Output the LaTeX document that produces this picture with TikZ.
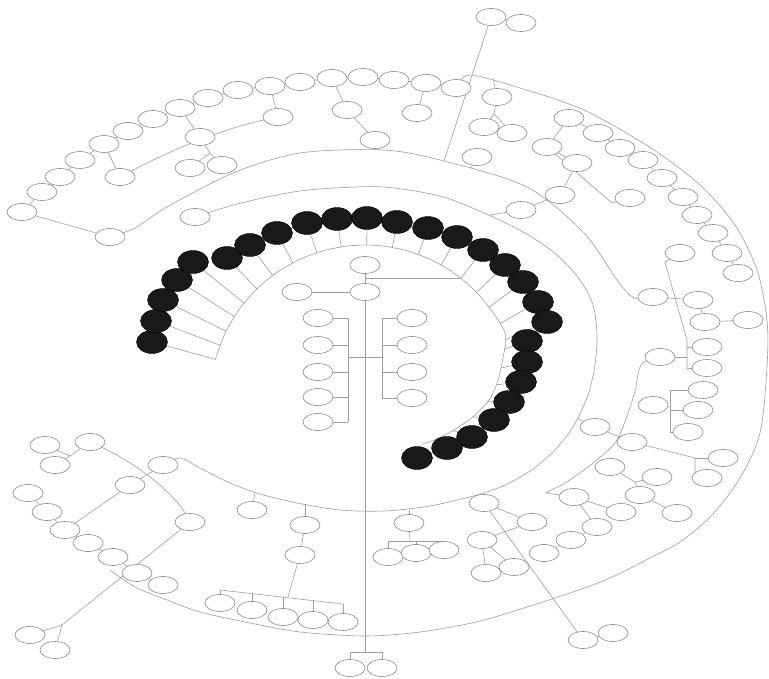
\documentclass[tikz,border=0pt]{standalone}
\usetikzlibrary{calc,shapes.geometric}
\pgfdeclarelayer{back}
\pgfdeclarelayer{bg}
\pgfsetlayers{back,bg,main}
\tikzset{
 wn/.style={ellipse,draw=black!45,fill=white,line width=0.6pt,minimum width=30pt,minimum height=17pt,inner sep=0pt},
 bn/.style={ellipse,draw=black,fill=black!90,minimum width=31pt,minimum height=23pt,inner sep=0pt},
 ln/.style={draw=black!38,line width=0.6pt},
}
\begin{document}
\begin{tikzpicture}[x=1pt,y=-1pt]
\useasboundingbox (0,0) rectangle (769,679);
\begin{pgfonlayer}{back}
\fill[white] (0,0) rectangle (769,679);
\end{pgfonlayer}
\coordinate (ctr) at (365,400);
% black nodes
\foreach \i/\x/\y in {1/152/342,2/156/321,3/163/300,4/177/280,5/193/262,6/227/258,7/250/245,8/277/233,9/307/223,10/337/219,11/367/218,12/397/222,13/428/228,14/457/237,15/483/250,16/505/265,17/523/282,18/538/302,19/547/322,20/527/341,21/527/362,22/521/382,23/509/402,24/494/420,25/472/437,26/447/448,27/417/458}
  \node[bn] (b\i) at (\x,\y) {};
% centre
\node[wn] (top) at (365,265) {};
\node[wn] (ctrn) at (365,292) {};
\node[wn] (lft) at (297,292) {};
\foreach \n/\yy in {l1/318,l2/345,l3/372,l4/397,l5/422} \node[wn] (\n) at (318,\yy) {};
\foreach \n/\yy in {r1/318,r2/345,r3/372,r4/398} \node[wn] (\n) at (412,\yy) {};
\node[wn] (bot1) at (350,668) {};
\node[wn] (bot2) at (382,668) {};
% top-left chain
\foreach \n/\x/\y in {c1/22/212,c2/42/192,c3/60/177,c4/80/160,c5/104/144,c6/128/131,c7/153/119,c8/180/108,c9/208/98,c10/238/90,c11/270/86,c12/300/82,c13/332/78,c14/363/77,c15/394/80,c16/426/83,c17/456/88,
  t1/110/237,t2/120/177,t3/200/137,t4/190/168,t5/222/165,t6/278/117,t7/347/110,t8/375/140,t9/417/113,t10/195/217}
  \node[wn] (\n) at (\x,\y) {};
% top-right
\foreach \n/\x/\y in {u1/491/17,u2/521/23,u3/497/97,u4/484/127,u5/512/133,u6/477/157,u7/569/118,u8/598/133,u9/620/148,u10/643/160,u11/662/178,u12/683/197,u13/547/147,u14/577/163,u15/630/198,u16/560/195,u17/521/210,u18/697/215,u19/713/233,u20/727/253,u21/738/273,u22/680/253,u23/653/297,u24/698/300,u25/705/322,u26/748/320,u27/707/347,u28/707/368,u29/660/357}
  \node[wn] (\n) at (\x,\y) {};
% right-lower
\foreach \n/\x/\y in {v1/703/390,v2/698/410,v3/688/432,v4/653/405,v5/595/427,v6/632/442,v7/723/458,v8/707/478,v9/610/467,v10/657/477,v11/640/495,v12/677/513,v13/574/497,v14/621/512,v15/597/527,v16/571/540,v17/544/553,v18/484/503,v19/532/522,v20/482/540,v21/514/567,v22/486/573,v23/583/640,v24/613/633}
  \node[wn] (\n) at (\x,\y) {};
% bottom centre
\foreach \n/\x/\y in {w1/409/523,w2/388/557,w3/416/553,w4/444/550,w5/305/525,w6/300/555,w7/220/603,w8/252/610,w9/283/617,w10/313/620,w11/343/622,w12/252/510}
  \node[wn] (\n) at (\x,\y) {};
% left-bottom
\foreach \n/\x/\y in {x1/45/445,x2/90/442,x3/55/465,x4/28/493,x5/47/512,x6/65/530,x7/88/543,x8/113/557,x9/137/573,x10/163/585,x11/130/485,x12/163/465,x13/190/522,x14/30/635,x15/55/650}
  \node[wn] (\n) at (\x,\y) {};

\begin{pgfonlayer}{bg}
% spokes
\foreach \i/\R in {1/155,2/155,3/155,4/155,5/155,6/155,7/155,8/155,9/155,10/155,11/155,12/155,13/155,14/155,15/155,16/155,17/155,18/155,19/152,20/148,21/140,22/133,23/122,24/109,25/93,26/80}
  \draw[ln] (b\i) -- ($(ctr)!\R pt!(b\i)$);
% ring A
\draw[ln] plot[smooth] coordinates {(215.3,359.9) (224.5,334.5) (238,311.1) (255.4,290.4) (276.1,273) (299.5,259.5) (324.9,250.3) (351.5,245.6) (378.5,245.6) (405.1,250.3) (430.5,259.5) (453.9,273) (474.6,290.4) (492,311.1) (505.5,334.5) (502.5,360.6) (497.7,381.3) (489,400) (472.7,417) (451.5,431.5) (434.3,440) (421.7,444.3)};
% ring B
\draw[ln] plot[smooth] coordinates {(t10.center) (230,206) (267,197) (300,191) (335,188) (384,187) (440,196) (484,213) (525,233) (557,255) (580,280) (593,305) (597,335) (595,365) (588,395) (573,427) (553,452) (530,471) (505,485) (477,495) (430,506) (384,511) (340,510) (297,503) (260,494) (230,483) (200,468) (180,458) (x12.center)};
% ring B2
\draw[ln] plot[smooth] coordinates {(t1.center) (135,228) (167,207) (233,173) (300,153) (384,150) (444,161) (527,187) (584,233) (617,280) (634,298) (u23.center)};
% ring C
\draw[ln] plot[smooth] coordinates {(c17.center) (470,75) (520,88) (584,110) (651,148) (700,185) (735,225) (757,270) (767,320) (767,367) (760,433) (740,478) (712,515) (680,542) (650,558) (610,578) (567,594) (484,620) (420,632) (365,636) (300,632) (250,623) (200,612) (167,600) (135,587) (110,570)};
% ring D
\draw[ln] plot[smooth] coordinates {(u29.center) (641,365) (634,395) (617,440) (593,463) (565,483) (545,493)};
% centre
\draw[ln] (top) -- (ctrn);
\draw[ln] (365,278) -- (460,278);
\draw[ln] (lft) -- (ctrn);
\draw[ln] (ctrn) -- (365,652);
\draw[ln] (bot1) |- (365,652);
\draw[ln] (bot2) |- (365,652);
\foreach \n/\yy in {l1/318,l2/345,l3/372,l4/397,l5/422} \draw[ln] (\n) -- (348,\yy);
\draw[ln] (348,318) -- (348,422);
\foreach \n/\yy in {r1/318,r2/345,r3/372,r4/398} \draw[ln] (\n) -- (382,\yy);
\draw[ln] (382,318) -- (382,398);
\draw[ln] (348,357) -- (382,357);
% top-left
\foreach \a/\b in {c1/c2,c2/c3,c3/c4,c4/c5,c5/c6,c6/c7,c7/c8,c8/c9,c9/c10,c10/c11,c11/c12,c12/c13,c13/c14,c14/c15,c15/c16,c16/c17}
  \draw[ln] (\a) -- (\b);
\draw[ln] (c1) -- (t1);
\draw[ln] (t2) .. controls (190,140) and (240,125) .. (t6);
\draw[ln] (t2) -- (c5);
\draw[ln] (t3) -- (c8);
\draw[ln] (t3) -- (210,153);
\draw[ln] (210,153) -- (t4);
\draw[ln] (210,153) -- (t5);
\draw[ln] (t6) -- (c11);
\draw[ln] (t7) -- (c13);
\draw[ln] (t7) -- (t8);
\draw[ln] (t9) -- (c16);
% top-right
\draw[ln] (u1) -- (444,161);
\draw[ln] (u1) -- (u2);
\draw[ln] (u3) -- (493,78);
\draw[ln] (u3) -- (494,114);
\draw[ln] (494,114) -- (u4);
\draw[ln] (494,114) -- (u5);
\draw[ln] (u6) -- (471,168);
\draw[ln] (u7) -- (u13);
\draw[ln] (u13) -- (u14);
\draw[ln] (u13) -- (612,203) -- (u15);
\foreach \a/\b in {u7/u8,u8/u9,u9/u10,u10/u11,u11/u12,u12/u18,u18/u19,u19/u20,u20/u21,u14/u16,u16/u17,u23/u24,u24/u25,u25/u26}
  \draw[ln] (\a) -- (\b);
\draw[ln] (u17) -- (490,215);
\draw[ln] (u22) -- (665,262) -- (687,340) -- (687,368);
\draw[ln] (687,347) -- (u27);
\draw[ln] (687,368) -- (u28);
\draw[ln] (u29) -- (687,357);
% right-lower
\draw[ln] (v4) -- (670,407);
\draw[ln] (670,390) -- (670,432);
\draw[ln] (670,390) -- (v1);
\draw[ln] (670,410) -- (v2);
\draw[ln] (670,432) -- (v3);
\draw[ln] (v5) -- (577,418);
\draw[ln] (v5) -- (v6);
\draw[ln] (v6) -- (695,458) -- (695,478);
\draw[ln] (695,458) -- (v7);
\draw[ln] (695,478) -- (v8);
\draw[ln] (v9) -- (635,482);
\draw[ln] (v10) -- (635,482);
\draw[ln] (635,482) -- (v11);
\foreach \a/\b in {v11/v12,v13/v14,v13/v15,v15/v16,v16/v17,v18/v19,v18/v23,v23/v24,v20/v22,v20/v21,v20/v19}
  \draw[ln] (\a) -- (\b);
\draw[ln] (v13) -- (546,493);
\draw[ln] (v18) -- (478,495);
% bottom centre
\draw[ln] (w1) -- (409,510);
\draw[ln] (w1) -- (410,541);
\draw[ln] (388,541) -- (444,541);
\draw[ln] (388,541) -- (w2);
\draw[ln] (416,541) -- (w3);
\draw[ln] (444,541) -- (w4);
\draw[ln] (w5) -- (305,504);
\draw[ln] (w5) -- (w6);
\draw[ln] (w6) -- (288,597);
\draw[ln] (220,590) -- (343,604);
\draw[ln] (220,590) -- (w7);
\draw[ln] (252,593.5) -- (w8);
\draw[ln] (283,597) -- (w9);
\draw[ln] (313,600.5) -- (w10);
\draw[ln] (343,604) -- (w11);
\draw[ln] (w12) -- (255,493);
% left-bottom
\draw[ln] (x1) -- (70,456);
\draw[ln] (x2) -- (70,456);
\draw[ln] (x3) -- (70,456);
\draw[ln] (x2) .. controls (140,465) and (175,495) .. (x13);
\draw[ln] (x12) -- (x11);
\draw[ln] (x11) -- (x6);
\foreach \a/\b in {x4/x5,x5/x6,x6/x7,x7/x8,x8/x9,x9/x10}
  \draw[ln] (\a) -- (\b);
\draw[ln] (x13) -- (62,625);
\draw[ln] (62,625) -- (x14);
\draw[ln] (62,625) -- (x15);
\end{pgfonlayer}
\end{tikzpicture}
\end{document}
